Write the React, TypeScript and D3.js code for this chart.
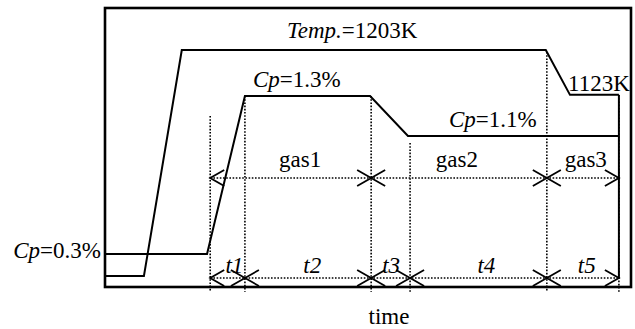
import React from "react";
import * as d3 from "d3";

// Schematic process: time in arbitrary units (0..100 across the frame)
const tempTimes = [0, 7.4, 14.6, 83.8, 88.4, 97.7];
const tempValues = [800, 800, 1203, 1203, 1123, 1123];
const cpTimes = [0, 19.4, 26.6, 50.4, 57.6, 97.7];
const cpValues = [0.3, 0.3, 1.3, 1.3, 1.1, 1.1];

// Stage boundaries t1..t5
const stageBounds = [20, 26.6, 50.6, 58, 84, 97.7];
const stageLabels = ["t1", "t2", "t3", "t4", "t5"];
const stageLabelAt = [24.6, 39.4, 54.4, 72.5, 91.6];
// Dotted guide tops (in y px of the level where they start)
const guideTopLevel = [116, 96, 96, 143, 52, 95];

// Gas stages
const gasBounds = [20, 50.6, 84, 97.7];
const gasLabels = ["gas1", "gas2", "gas3"];
const gasLabelAt = [37.1, 66.9, 91.4];

const W = 635;
const H = 329;
const frame = { x0: 105, x1: 631, y0: 8, y1: 287 };
const gasRowY = 178;
const stageRowY = 278;
const guideBottom = 292;
const FONT = "'Liberation Serif', 'Times New Roman', Times, serif";
const FS = 23;

function Arrow({ x, y, dir }: { x: number; y: number; dir: number }) {
  const dx = 14 * dir;
  return (
    <path
      d={`M${x + dx},${y - 8} L${x},${y} L${x + dx},${y + 8}`}
      fill="none"
      stroke="#000"
      strokeWidth={1.8}
    />
  );
}

function Cross({ x, y }: { x: number; y: number }) {
  return (
    <path
      d={`M${x - 14},${y - 8} L${x + 14},${y + 8} M${x - 14},${y + 8} L${x + 14},${y - 8}`}
      fill="none"
      stroke="#000"
      strokeWidth={1.8}
    />
  );
}

function Row({ bounds, y, xs }: { bounds: number[]; y: number; xs: d3.ScaleLinear<number, number> }) {
  const first = xs(bounds[0]);
  const last = xs(bounds[bounds.length - 1]);
  return (
    <g>
      <line x1={first} x2={last} y1={y} y2={y} stroke="#000" strokeWidth={1.6} strokeDasharray="1.6,1.6" />
      <Arrow x={first} y={y} dir={1} />
      <Arrow x={last} y={y} dir={-1} />
      {bounds.slice(1, -1).map((b, i) => (
        <Cross key={i} x={xs(b)} y={y} />
      ))}
    </g>
  );
}

export default function App() {
  const x = d3.scaleLinear().domain([0, 100]).range([frame.x0, frame.x1]);
  const yT = d3.scaleLinear().domain([800, 1203]).range([276, 50]);
  const yC = d3.scaleLinear().domain([0.3, 1.1, 1.3]).range([254, 136, 96]);

  const tempLine = d3
    .line<number>()
    .x((_, i) => x(tempTimes[i]))
    .y((v) => yT(v))(tempValues);
  const cpLine = d3
    .line<number>()
    .x((_, i) => x(cpTimes[i]))
    .y((v) => yC(v))(cpValues);

  const endT = tempTimes[tempTimes.length - 1];

  return (
    <svg width={W} height={H} style={{ position: "absolute", left: 0, top: 0, background: "#fff" }}>
      {/* dotted guides */}
      {stageBounds.map((b, i) => (
        <line
          key={i}
          x1={x(b)}
          x2={x(b)}
          y1={guideTopLevel[i]}
          y2={guideBottom}
          stroke="#000"
          strokeWidth={1.6}
          strokeDasharray="1.6,1.6"
        />
      ))}
      <rect
        x={frame.x0}
        y={frame.y0}
        width={frame.x1 - frame.x0}
        height={frame.y1 - frame.y0}
        fill="none"
        stroke="#000"
        strokeWidth={2.6}
      />
      <path d={tempLine || ""} fill="none" stroke="#000" strokeWidth={2} strokeLinejoin="miter" />
      <path d={cpLine || ""} fill="none" stroke="#000" strokeWidth={2} />
      <line
        x1={x(endT)}
        x2={x(endT)}
        y1={yT(1123)}
        y2={stageRowY}
        stroke="#000"
        strokeWidth={2}
      />

      <Row bounds={gasBounds} y={gasRowY} xs={x} />
      <Row bounds={stageBounds} y={stageRowY} xs={x} />

      <g style={{ fontFamily: FONT, fontSize: FS }} fill="#000">
        {gasLabels.map((l, i) => (
          <text key={l} x={x(gasLabelAt[i])} y={167} textAnchor="middle">
            {l}
          </text>
        ))}
        {stageLabels.map((l, i) => (
          <text key={l} x={x(stageLabelAt[i])} y={273} textAnchor="middle" fontStyle="italic">
            {l}
          </text>
        ))}
        <text x={287} y={38}>
          <tspan fontStyle="italic">Temp.</tspan>=1203K
        </text>
        <text x={568} y={91}>1123K</text>
        <text x={253} y={87}>
          <tspan fontStyle="italic">Cp</tspan>=1.3%
        </text>
        <text x={449} y={127}>
          <tspan fontStyle="italic">Cp</tspan>=1.1%
        </text>
        <text x={101} y={258} textAnchor="end">
          <tspan fontStyle="italic">Cp</tspan>=0.3%
        </text>
        <text x={389} y={324} textAnchor="middle">
          time
        </text>
      </g>
    </svg>
  );
}
